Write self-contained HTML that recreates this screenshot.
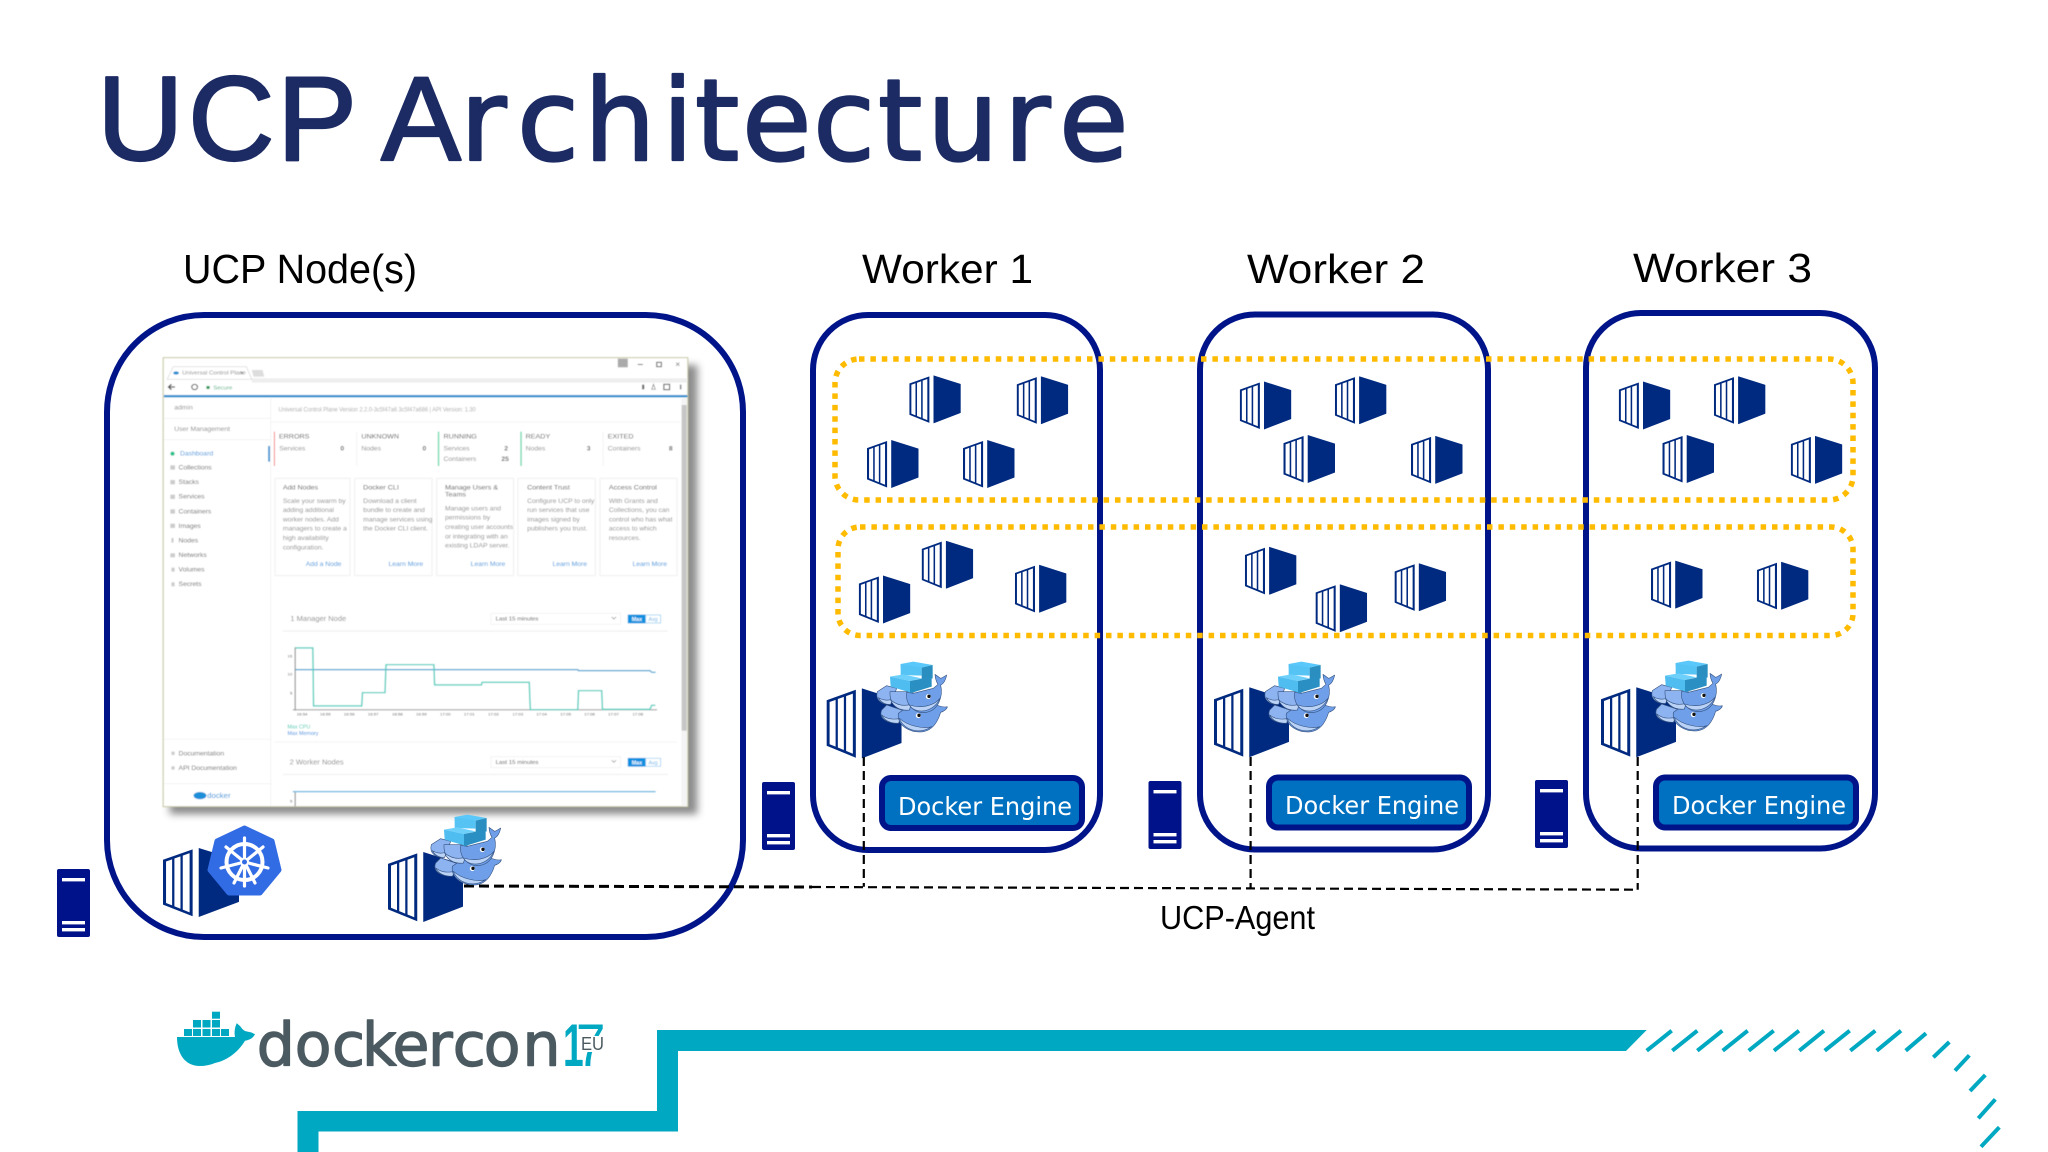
<!DOCTYPE html>
<html><head><meta charset="utf-8"><title>UCP Architecture</title>
<style>
html,body{margin:0;padding:0;background:#fff}
svg{display:block}
text{font-family:"Liberation Sans",sans-serif}
.dj{font-family:"DejaVu Sans",sans-serif}
.s text{fill:#8c8c8c;font-size:19px}
.s .d{fill:#6a6a6a}
.s .l{fill:#3a95dc}
.s .t{fill:#555;font-size:20px}
.s .n{fill:#666;font-weight:bold}
.s .x{font-size:12px;fill:#555}
</style></head><body>
<svg xmlns="http://www.w3.org/2000/svg" width="2048" height="1152" viewBox="0 0 2048 1152">
<defs>
<filter id="b" x="-5%" y="-5%" width="110%" height="110%"><feGaussianBlur stdDeviation="1.6"/></filter>
<filter id="sh" x="-10%" y="-10%" width="120%" height="120%"><feGaussianBlur stdDeviation="11"/></filter>
<symbol id="c" viewBox="0 0 100 100" preserveAspectRatio="none">
<polygon points="0,17 39,2 39,99 0,82" fill="#002a80"/>
<polygon points="47,0 100,18 100,78 47,100" fill="#002a80"/>
<polygon points="4,19.5 12,16.4 12,83.2 4,79.7" fill="#fff"/>
<polygon points="15,15.2 23,12.1 23,88 15,84.5" fill="#fff"/>
<polygon points="26,11 35,7.5 35,93.3 26,89.3" fill="#fff"/>
</symbol>
<symbol id="srv" viewBox="0 0 33 68" preserveAspectRatio="none">
<rect width="33" height="68" rx="2" fill="#00128a"/>
<rect x="5" y="9" width="23" height="3.4" fill="#fff"/>
<rect x="5" y="52" width="23" height="3.4" fill="#fff"/>
<rect x="5" y="59" width="23" height="3.4" fill="#fff"/>
</symbol>
<symbol id="w" viewBox="21 24 210 210" overflow="visible">
<g stroke="#33507f" stroke-width="1.8" stroke-linejoin="round">
<path d="M35 165 C25 190 50 205 85 205 L110 170 L50 150 Z" fill="#8db3f0"/>
<path d="M35 180 C45 200 65 205 85 205 L92 190 C70 195 50 192 35 180Z" fill="#b9d2f6"/>
<path d="M85 175 C80 215 125 235 160 230 C190 225 205 195 212 172 C220 170 232 162 232 155 C222 158 215 155 205 152 L120 150 Z" fill="#6f9fe8"/>
<path d="M88 190 C100 225 150 240 185 215 C165 222 115 215 88 190Z" fill="#b9d2f6"/>
<path d="M22 110 C15 135 35 150 62 148 L80 100 L50 92 Z" fill="#8db3f0"/>
<path d="M25 128 C35 145 50 150 62 148 L68 132 C52 138 38 136 25 128Z" fill="#b9d2f6"/>
<path d="M60 110 C58 150 85 170 118 165 L130 110 Z" fill="#8db3f0"/>
<path d="M62 135 C70 155 90 168 118 165 L124 148 C100 155 80 150 62 135Z" fill="#b9d2f6"/>
<path d="M110 112 C105 150 135 178 170 172 C205 165 220 125 212 90 C222 86 228 72 230 60 C224 64 218 68 212 70 C208 68 202 62 195 58 C196 72 200 82 204 88 L190 100 L130 115 Z" fill="#6f9fe8"/>
<path d="M118 150 C135 178 190 175 210 130 C190 155 150 160 118 150Z" fill="#b9d2f6"/>
</g>
<polygon points="92,27 130,20 188,30 155,38 92,38" fill="#5ac8fa"/>
<polygon points="92,27 155,38 155,62 92,60" fill="#55c4f5"/>
<polygon points="155,38 188,30 188,70 155,75" fill="#2a8fc0"/>
<polygon points="60,65 100,58 155,70 120,78" fill="#6dd0fb"/>
<polygon points="60,65 120,78 120,112 62,95" fill="#4fbdf0"/>
<polygon points="120,78 185,65 185,95 120,115" fill="#2a90c4"/>
<circle cx="175" cy="125" r="7.5" fill="#fff"/><circle cx="177" cy="124" r="5" fill="#111"/>
<circle cx="145" cy="182" r="7.5" fill="#fff"/><circle cx="147" cy="181" r="5" fill="#111"/>
</symbol>
</defs>

<rect width="2048" height="1152" fill="#fff"/>

<!-- Title and labels -->
<g fill="#1c2b63" stroke="#1c2b63" stroke-linejoin="round">
<text x="97 188 277 360 381" y="160" font-size="120" stroke-width="2.2">UCP A</text>
<text class="dj" x="460 517 584 662 695 742 813 878 927 1004 1059" y="160" font-size="113" stroke-width="2.2">rchitecture</text>
</g>
<text x="183" y="283" font-size="41" textLength="234" lengthAdjust="spacingAndGlyphs" fill="#000">UCP Node(s)</text>
<text x="862" y="283" font-size="41" textLength="171" lengthAdjust="spacingAndGlyphs" fill="#000">Worker 1</text>
<text x="1247" y="283" font-size="41" textLength="178" lengthAdjust="spacingAndGlyphs" fill="#000">Worker 2</text>
<text x="1633" y="282" font-size="41" textLength="179" lengthAdjust="spacingAndGlyphs" fill="#000">Worker 3</text>
<text x="1160" y="929" font-size="33" textLength="155" lengthAdjust="spacingAndGlyphs" fill="#000">UCP-Agent</text>

<!-- Screenshot -->
<g transform="translate(150 340) scale(.3571 .3333)">
<rect x="55" y="75" width="1478" height="1348" fill="#666" opacity=".75" filter="url(#sh)"/>
<g class="s" filter="url(#b)">
<rect x="37" y="53" width="1469" height="1347" fill="#fff" stroke="#c8c8a4" stroke-width="3"/>
<rect x="285" y="115" width="1220" height="13" fill="#eee"/>
<polygon points="48,118 65,80 270,80 285,118" fill="#fff" stroke="#d5d5d5" stroke-width="2"/>
<polygon points="285,90 315,90 320,110 290,110" fill="#ddd"/>
<ellipse cx="73" cy="99" rx="8" ry="5" fill="#2b8fd0"/>
<text x="90" y="104" font-size="17" fill="#666" style="font-size:17px">Universal Control Plane</text>
<text x="251" y="105" class="d">×</text>
<rect x="1310" y="56" width="28" height="26" fill="#aaa"/>
<rect x="1366" y="72" width="14" height="3" fill="#666"/>
<rect x="1419" y="67" width="13" height="13" fill="none" stroke="#666" stroke-width="3"/>
<text x="1471" y="81" class="d" style="font-size:24px">×</text>
<path d="M70 141 H52 M60 133 L52 141 L60 149" stroke="#555" stroke-width="4" fill="none"/>
<circle cx="125" cy="141" r="8" fill="none" stroke="#555" stroke-width="3"/>
<rect x="158" y="138" width="9" height="9" fill="#2a9a5a"/>
<text x="177" y="148" style="fill:#4ab080;font-size:17px">Secure</text>
<rect x="1378" y="134" width="6" height="14" fill="#666"/>
<path d="M1410 133 l5 15 h-10 z" fill="none" stroke="#777" stroke-width="2"/>
<rect x="1439" y="133" width="16" height="16" fill="none" stroke="#555" stroke-width="3"/>
<rect x="1484" y="134" width="4" height="14" fill="#777"/>
<rect x="39" y="165" width="1466" height="7" fill="#2b8fd0"/>
<rect x="337" y="172" width="2" height="1226" fill="#eee"/>
<text x="68" y="209">admin</text>
<rect x="40" y="234" width="298" height="2" fill="#eee"/>
<text x="68" y="273">User Management</text>
<rect x="40" y="298" width="298" height="2" fill="#eee"/>
<circle cx="63" cy="341" r="6" fill="#22c28a"/>
<text x="84" y="347" class="l">Dashboard</text>
<rect x="331" y="318" width="5" height="47" fill="#2b8fd0"/>
<g class="d">
<text x="80" y="388" class="d">Collections</text><text x="80" y="432" class="d">Stacks</text><text x="80" y="476" class="d">Services</text><text x="80" y="520" class="d">Containers</text><text x="80" y="564" class="d">Images</text><text x="80" y="607" class="d">Nodes</text><text x="80" y="651" class="d">Networks</text><text x="80" y="695" class="d">Volumes</text><text x="80" y="738" class="d">Secrets</text>
<text x="80" y="1246" class="d">Documentation</text><text x="80" y="1290" class="d">API Documentation</text>
</g>
<g fill="#ccc"><rect x="57" y="376" width="13" height="13"/><rect x="57" y="420" width="13" height="13"/><rect x="57" y="464" width="13" height="13"/><rect x="57" y="508" width="13" height="13"/><rect x="57" y="551" width="13" height="13"/><rect x="60" y="594" width="6" height="14"/><rect x="57" y="640" width="13" height="12"/><rect x="60" y="683" width="9" height="12"/><rect x="60" y="727" width="9" height="12"/><rect x="60" y="1235" width="9" height="10"/><rect x="60" y="1279" width="9" height="10"/></g>
<rect x="40" y="1197" width="298" height="2" fill="#eee"/>
<rect x="40" y="1330" width="298" height="2" fill="#eee"/>
<ellipse cx="140" cy="1367" rx="18" ry="11" fill="#1f8fd8"/>
<text x="160" y="1374" style="fill:#1f8fd8;font-size:22px">docker</text>
<text x="360" y="215" textLength="552" lengthAdjust="spacingAndGlyphs" style="fill:#aaa">Universal Control Plane Version 2.2.0-3c5f47a6 3c5f47a686 | API Version: 1.30</text>
<rect x="339" y="245" width="1148" height="2" fill="#eee"/>

<rect x="347" y="275" width="3" height="103" fill="#f08a8a"/><rect x="578" y="275" width="2" height="103" fill="#eee"/><rect x="806" y="275" width="4" height="103" fill="#6fd9b0"/><rect x="1037" y="275" width="4" height="103" fill="#6fd9b0"/><rect x="1268" y="275" width="2" height="103" fill="#eee"/>
<text x="361" y="295" class="t">ERRORS</text><text x="592" y="295" class="t">UNKNOWN</text><text x="822" y="295" class="t">RUNNING</text><text x="1052" y="295" class="t">READY</text><text x="1282" y="295" class="t">EXITED</text>
<text x="362" y="332">Services</text><text x="592" y="332">Nodes</text><text x="822" y="332">Services</text><text x="822" y="363">Containers</text><text x="1052" y="332">Nodes</text><text x="1282" y="332">Containers</text>
<text x="533" y="332" class="n">0</text><text x="763" y="332" class="n">0</text><text x="992" y="332" class="n">2</text><text x="984" y="363" class="n">25</text><text x="1223" y="332" class="n">3</text><text x="1453" y="332" class="n">8</text>

<g fill="#fff" stroke="#f0f0f0" stroke-width="3"><rect x="350" y="415" width="210" height="292"/><rect x="573" y="415" width="217" height="292"/><rect x="803" y="415" width="215" height="292"/><rect x="1030" y="415" width="217" height="292"/><rect x="1260" y="415" width="216" height="292"/></g>
<text x="372" y="448" class="t">Add Nodes</text>
<text x="372" y="489">Scale your swarm by</text><text x="372" y="516">adding additional</text><text x="372" y="544">worker nodes. Add</text><text x="372" y="572">managers to create a</text><text x="372" y="600">high availability</text><text x="372" y="628">configuration.</text>
<text x="436" y="678" class="l">Add a Node</text>
<text x="597" y="448" class="t">Docker CLI</text>
<text x="597" y="489">Download a client</text><text x="597" y="516">bundle to create and</text><text x="597" y="544">manage services using</text><text x="597" y="572">the Docker CLI client.</text>
<text x="668" y="678" class="l">Learn More</text>
<text x="826" y="448" class="t">Manage Users &amp;</text><text x="826" y="470" class="t">Teams</text>
<text x="826" y="511">Manage users and</text><text x="826" y="539">permissions by</text><text x="826" y="567">creating user accounts</text><text x="826" y="595">or integrating with an</text><text x="826" y="623">existing LDAP server.</text>
<text x="898" y="678" class="l">Learn More</text>
<text x="1056" y="448" class="t">Content Trust</text>
<text x="1056" y="489">Configure UCP to only</text><text x="1056" y="516">run services that use</text><text x="1056" y="544">images signed by</text><text x="1056" y="572">publishers you trust.</text>
<text x="1127" y="678" class="l">Learn More</text>
<text x="1285" y="448" class="t">Access Control</text>
<text x="1285" y="489">With Grants and</text><text x="1285" y="516">Collections, you can</text><text x="1285" y="544">control who has what</text><text x="1285" y="572">access to which</text><text x="1285" y="600">resources.</text>
<text x="1351" y="678" class="l">Learn More</text>

<text x="393" y="843" style="font-size:21px">1 Manager Node</text>
<rect x="955" y="820" width="363" height="33" fill="#fff" stroke="#eee" stroke-width="2"/>
<text x="968" y="842" style="fill:#555;font-size:17px">Last 15 minutes</text>
<path d="M1293 831 l6 6 l6 -6" fill="none" stroke="#888" stroke-width="2"/>
<rect x="1338" y="824" width="50" height="26" fill="#0a8fe0"/><rect x="1388" y="825" width="42" height="24" fill="#fff" stroke="#8cc8f0" stroke-width="2"/>
<text x="1349" y="843" style="fill:#fff;font-size:15px;font-weight:bold">Max</text><text x="1396" y="843" style="fill:#6ab4e8;font-size:15px">Avg</text>
<rect x="372" y="872" width="1078" height="3" fill="#eee"/>
<rect x="405" y="922" width="3" height="190" fill="#888"/><rect x="400" y="1108" width="1020" height="3" fill="#999"/>
<text x="385" y="952" class="x">15</text><text x="385" y="1007" class="x">10</text><text x="392" y="1063" class="x">5</text>
<g>
<text x="411" y="1127" class="x">16:54</text><text x="476" y="1127" class="x">16:55</text><text x="543" y="1127" class="x">16:56</text><text x="610" y="1127" class="x">16:57</text><text x="678" y="1127" class="x">16:58</text><text x="745" y="1127" class="x">16:59</text><text x="812" y="1127" class="x">17:00</text><text x="879" y="1127" class="x">17:01</text><text x="947" y="1127" class="x">17:02</text><text x="1015" y="1127" class="x">17:03</text><text x="1082" y="1127" class="x">17:04</text><text x="1149" y="1127" class="x">17:05</text><text x="1216" y="1127" class="x">17:06</text><text x="1283" y="1127" class="x">17:07</text><text x="1351" y="1127" class="x">17:08</text>
</g>
<polyline points="407,989 1198,989 1200,992 1400,992 1405,997 1416,997" fill="none" stroke="#3a9fd0" stroke-width="3.5"/>
<polyline points="407,924 456,924 458,1098 593,1098 595,1058 658,1058 661,974 795,974 797,1035 928,1035 930,1027 1062,1027 1065,1109 1198,1109 1200,1052 1265,1052 1267,1108 1400,1108 1405,1096 1415,1096" fill="none" stroke="#55cfc0" stroke-width="4"/>
<text x="385" y="1166" style="fill:#38c8b0;font-size:15px">Max CPU</text><text x="385" y="1185" style="fill:#3a8fe0;font-size:15px">Max Memory</text>
<rect x="350" y="1205" width="1125" height="2" fill="#eee"/>
<text x="391" y="1273" style="font-size:21px">2 Worker Nodes</text>
<rect x="955" y="1250" width="363" height="33" fill="#fff" stroke="#eee" stroke-width="2"/>
<text x="968" y="1272" style="fill:#555;font-size:17px">Last 15 minutes</text>
<path d="M1293 1261 l6 6 l6 -6" fill="none" stroke="#888" stroke-width="2"/>
<rect x="1338" y="1254" width="50" height="26" fill="#0a8fe0"/><rect x="1388" y="1255" width="42" height="24" fill="#fff" stroke="#8cc8f0" stroke-width="2"/>
<text x="1349" y="1273" style="fill:#fff;font-size:15px;font-weight:bold">Max</text><text x="1396" y="1273" style="fill:#6ab4e8;font-size:15px">Avg</text>
<rect x="372" y="1302" width="1078" height="3" fill="#eee"/>
<rect x="405" y="1355" width="3" height="44" fill="#888"/>
<rect x="400" y="1353" width="1016" height="4" fill="#6ab8e0"/>
<text x="392" y="1388" class="x">5</text>
<rect x="1488" y="175" width="16" height="1224" fill="#f4f4f4"/>
<rect x="1489" y="195" width="14" height="977" fill="#c6c6c6"/>
</g>
</g>

<!-- Frames -->
<g fill="none" stroke="#00148a" stroke-width="6">
<rect x="107" y="315" width="636" height="622" rx="97"/>
<rect x="813" y="315" width="287" height="535" rx="55"/>
<rect x="1200" y="314.5" width="288" height="535" rx="55"/>
<rect x="1586" y="313" width="289" height="535.5" rx="55"/>
</g>

<!-- Dotted groups -->
<g fill="none" stroke="#ffbb00" stroke-width="5.5" stroke-dasharray="5.5 5.9">
<rect x="835" y="359" width="1018" height="141" rx="24"/>
<rect x="838" y="527" width="1015" height="108.5" rx="22"/>
</g>

<!-- Small containers -->
<g>
<use href="#c" x="909.3" y="375.4" width="51.5" height="48"/>
<use href="#c" x="1016.7" y="376.2" width="51.5" height="48"/>
<use href="#c" x="867" y="440" width="51.5" height="48"/>
<use href="#c" x="963" y="440" width="51.5" height="48"/>
<use href="#c" x="921.7" y="540.7" width="51.5" height="48"/>
<use href="#c" x="858.8" y="575.5" width="51.5" height="48"/>
<use href="#c" x="1014.9" y="564.8" width="51.5" height="48"/>
<use href="#c" x="1239.8" y="381.5" width="51.5" height="48"/>
<use href="#c" x="1334.9" y="376.2" width="51.5" height="48"/>
<use href="#c" x="1283.5" y="435" width="51.5" height="48"/>
<use href="#c" x="1411" y="435.9" width="51.5" height="48"/>
<use href="#c" x="1244.9" y="546.8" width="51.5" height="48"/>
<use href="#c" x="1315.6" y="584.3" width="51.5" height="48"/>
<use href="#c" x="1394.6" y="563.3" width="51.5" height="48"/>
<use href="#c" x="1618.8" y="381.5" width="51.5" height="48"/>
<use href="#c" x="1713.9" y="376.2" width="51.5" height="48"/>
<use href="#c" x="1662.5" y="435" width="51.5" height="48"/>
<use href="#c" x="1790.8" y="435.9" width="51.5" height="48"/>
<use href="#c" x="1651" y="560.6" width="51.5" height="48"/>
<use href="#c" x="1756.9" y="561.8" width="51.5" height="48"/>
</g>

<!-- Large containers -->
<use href="#c" x="826.6" y="688.4" width="75" height="70"/>
<use href="#c" x="1214" y="687.3" width="75" height="70"/>
<use href="#c" x="1601" y="687.3" width="75" height="70"/>
<use href="#c" x="388" y="852" width="75" height="70"/>
<use href="#c" x="163" y="848" width="76" height="69"/>

<!-- Dashed connector -->
<g fill="none" stroke="#000">
<path d="M464 886 L812 887" stroke-width="3" stroke-dasharray="10 5"/>
<path d="M812 887 L1250.6 888.4 L1637.7 889.7" stroke-width="2.2" stroke-dasharray="9 5"/>
<path d="M863.8 757 V886.7 M1250.6 757 V888.4 M1637.7 757 V889.7" stroke-width="2.2" stroke-dasharray="9 5"/>
</g>

<!-- Whales -->
<use href="#w" x="877" y="663" width="70" height="70"/>
<use href="#w" x="1265" y="663" width="70" height="70"/>
<use href="#w" x="1652" y="662" width="70" height="70"/>
<use href="#w" x="431" y="816" width="70" height="70"/>

<!-- Kubernetes -->
<polygon points="244.5,828 272,841 279,870 260,893 229,893 210,870 217,841" fill="#326ce5" stroke="#326ce5" stroke-width="5" stroke-linejoin="round"/>
<g stroke="#fff" fill="none" stroke-linecap="round">
<circle cx="244.5" cy="862" r="18" stroke-width="4"/>
<g stroke-width="3.2">
<path d="M244.5 838 V886"/>
<path d="M244.5 862 L263 847 M244.5 862 L226 847 M244.5 862 L268 868 M244.5 862 L221 868 M244.5 862 L255 883 M244.5 862 L234 883"/>
</g>
</g>
<circle cx="244.5" cy="862" r="3.5" fill="#326ce5" stroke="#fff" stroke-width="2"/>

<!-- Servers -->
<use href="#srv" x="57" y="869" width="33" height="68"/>
<use href="#srv" x="762" y="782" width="33" height="68"/>
<use href="#srv" x="1148.5" y="781" width="33" height="68"/>
<use href="#srv" x="1535" y="780" width="33" height="68"/>

<!-- Docker Engine boxes -->
<g fill="#0070c0" stroke="#00148a" stroke-width="6">
<rect x="882" y="778" width="200" height="50" rx="9"/>
<rect x="1269" y="777.5" width="200" height="50" rx="9"/>
<rect x="1656" y="777.5" width="200" height="50" rx="9"/>
</g>
<g fill="#fff" font-size="25">
<text class="dj" x="898" y="815" textLength="174" lengthAdjust="spacingAndGlyphs">Docker Engine</text>
<text class="dj" x="1285" y="814" textLength="174" lengthAdjust="spacingAndGlyphs">Docker Engine</text>
<text class="dj" x="1672" y="814" textLength="174" lengthAdjust="spacingAndGlyphs">Docker Engine</text>
</g>

<!-- Dockercon logo -->
<g fill="#00a9c1">
<path d="M177 1037 H235 C234 1032 235 1027 236.7 1023.3 C239 1025 241 1027 241.7 1028.3 C244 1031 246 1031.5 248 1031.7 C251 1032 253 1033 255 1034.3 C253 1038 250 1040 245 1040.7 C238 1052 228 1060 215 1063 C210 1065 205 1066 200 1066 C185 1066 177 1054 177 1037 Z"/>
<rect x="184" y="1029" width="8" height="7"/><rect x="193" y="1029" width="8" height="7"/><rect x="202.5" y="1029" width="8" height="7"/><rect x="212" y="1029" width="8" height="7"/><rect x="221" y="1029" width="8" height="7"/>
<rect x="193" y="1020" width="8" height="7.5"/><rect x="202.5" y="1020" width="8" height="7.5"/><rect x="212" y="1020" width="8" height="7.5"/>
<rect x="212" y="1011.7" width="8" height="7"/>
</g>
<text class="dj" x="256.7 294.7 332 362 392.5 428 452.7 483.7 522.5" y="1065.5" font-size="60" fill="#4b5a60" stroke="#4b5a60" stroke-width="1.4" stroke-linejoin="round">dockercon</text>
<text transform="translate(563 1066) scale(.62 1)" font-size="60" font-weight="bold" fill="#00a9c1">1</text>
<text transform="translate(576 1066) scale(.88 1)" font-size="60" fill="#00a9c1">7</text>
<rect x="580" y="1036" width="25" height="16" fill="#fff"/>
<text x="581" y="1050" font-size="18" textLength="23" lengthAdjust="spacingAndGlyphs" fill="#4b5a60">EU</text>

<!-- Teal bar -->
<path d="M297.5 1152 V1111 H657 V1030 H1646.7 L1626 1051 H678 V1131.5 H318.5 V1152 Z" fill="#00a9c1"/>
<g stroke="#00a9c1" stroke-width="4" fill="none">
<path d="M1671.7 1030.7 L1646.7 1050.7 M1697.3 1030.7 L1672.3 1050.7 M1722.3 1030.7 L1697.3 1050.7 M1747.7 1030.7 L1722.7 1050.7 M1773.7 1030.7 L1748.7 1050.7 M1799 1030.7 L1774 1050.7 M1824 1030.7 L1799.3 1050.7 M1849.7 1030.7 L1824.7 1050.7 M1875.3 1030.7 L1850.3 1050.7 M1901 1030.7 L1876.7 1050.7"/>
<path d="M1926 1033.3 L1905.7 1050.7 M1949.3 1042 L1933.3 1057.3 M1969.3 1055.3 L1955 1070.7 M1985.3 1075 L1970 1091 M1995.3 1099.3 L1978.3 1118.3 M1999.3 1127.3 L1981 1146.7"/>
</g>
</svg>
</body></html>
